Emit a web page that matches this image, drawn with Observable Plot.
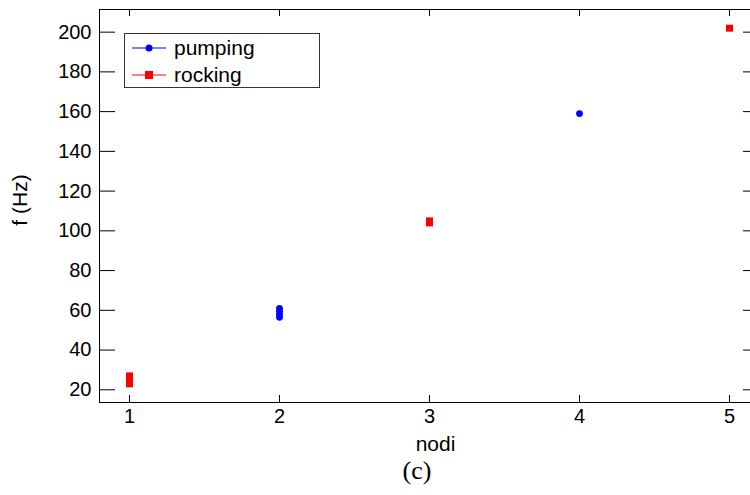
<!DOCTYPE html>
<html><head><meta charset="utf-8">
<script src="https://cdn.jsdelivr.net/npm/d3@7"></script>
<script src="https://cdn.jsdelivr.net/npm/@observablehq/plot@0.6"></script>
<style>
html,body{margin:0;padding:0;background:#fff;overflow:hidden;}
#wrap{position:relative;width:750px;height:495px;overflow:hidden;font-family:"Liberation Sans",Arial,sans-serif;color:#000;}
#legend{position:absolute;left:124px;top:33px;width:194px;height:53px;border:1px solid #333;background:#fff;}
.row{position:absolute;left:0;height:26px;display:flex;align-items:center;font-size:21px;}
.row svg{margin-left:7px;margin-right:8px;}
#caption{position:absolute;left:417px;top:455px;transform:translateX(-50%);font-family:"Liberation Serif","DejaVu Serif",serif;font-size:26px;line-height:32px;}
</style></head><body><div id="wrap"></div>
<script>
const xTicks = [1, 2, 3, 4, 5];
const yTicks = [20, 40, 60, 80, 100, 120, 140, 160, 180, 200];
const pumpingNodi = [2, 2, 2, 2, 4];
const pumpingF = [56.5, 58, 59.5, 61, 159];
const rockingNodi = [1, 1, 1, 1, 3, 3, 5];
const rockingF = [23, 24.5, 26, 27, 104, 105, 202];
const seriesNames = ["pumping", "rocking"];
const seriesColors = ["#0000ff", "#ff0000"];
const xLabel = "nodi";
const yLabel = "f (Hz)";
const captionText = "(c)";

const pumping = pumpingNodi.map((x, i) => ({x, y: pumpingF[i]}));
const rocking = rockingNodi.map((x, i) => ({x, y: rockingF[i]}));

const chart = Plot.plot({
  width: 761, height: 455,
  marginLeft: 99, marginRight: 2, marginTop: 9, marginBottom: 53,
  x: {domain: [0.8, 5.2]},
  y: {domain: [13.6, 211.4]},
  style: {fontFamily: '"Liberation Sans", Arial, sans-serif', fontSize: "20px", color: "black", background: "white", maxWidth: "none", overflow: "hidden"},
  marks: [
    Plot.axisX({ticks: xTicks, tickSize: 0, tickPadding: 6, label: null, tickFormat: d => String(d)}),
    Plot.axisY({ticks: yTicks, tickSize: 0, tickPadding: 8, label: null, tickFormat: d => String(d)}),
    Plot.tickY(yTicks, {y: d => d, insetRight: 644, stroke: "black"}),
    Plot.tickY(yTicks, {y: d => d, insetLeft: 644, stroke: "black"}),
    Plot.tickX(xTicks, {x: d => d, insetTop: 386, stroke: "black"}),
    Plot.tickX(xTicks, {x: d => d, insetBottom: 386, stroke: "black"}),
    Plot.frame({stroke: "black"}),
    Plot.dot(pumping, {x: "x", y: "y", r: 3.4, fill: seriesColors[0], symbol: "circle"}),
    Plot.dot(rocking, {x: "x", y: "y", r: 3.95, fill: seriesColors[1], symbol: "square"}),
    Plot.text([xLabel], {frameAnchor: "bottom", dx: 6, dy: 41.5, textAnchor: "middle", lineAnchor: "middle", fill: "black", fontSize: 21}),
    Plot.text([yLabel], {frameAnchor: "left", dx: -79, dy: -6, rotate: -90, textAnchor: "middle", lineAnchor: "middle", fill: "black", fontSize: 21})
  ]
});
const wrap = document.getElementById("wrap");
wrap.appendChild(chart);

const legend = document.createElement("div");
legend.id = "legend";
seriesNames.forEach((name, i) => {
  const row = document.createElement("div");
  row.className = "row";
  row.style.top = (i === 0 ? 1 : 28) + "px";
  const marker = i === 0
    ? `<circle cx="17" cy="8" r="3.5" fill="${seriesColors[i]}"/>`
    : `<rect x="13" y="4" width="8" height="8" fill="${seriesColors[i]}"/>`;
  row.innerHTML = `<svg width="34" height="16"><line x1="0" y1="8" x2="34" y2="8" stroke="${seriesColors[i]}" stroke-width="1"/>${marker}</svg><span>${name}</span>`;
  legend.appendChild(row);
});
wrap.appendChild(legend);

const cap = document.createElement("div");
cap.id = "caption";
cap.textContent = captionText;
wrap.appendChild(cap);
</script></body></html>
